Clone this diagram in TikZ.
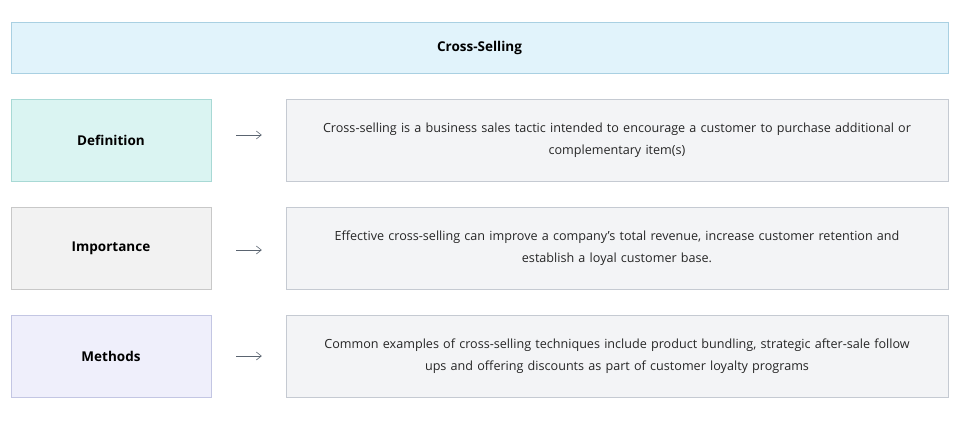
\documentclass[tikz,border=0pt]{standalone}
\usepackage{fontspec}
\setmainfont{Open Sans}
\usetikzlibrary{arrows.meta,positioning}
\definecolor{titlefill}{HTML}{E1F3FB}
\definecolor{titledraw}{HTML}{A9D0E2}
\definecolor{deffill}{HTML}{DAF4F2}
\definecolor{deffdraw}{HTML}{A8D9D5}
\definecolor{impfill}{HTML}{F2F2F2}
\definecolor{impdraw}{HTML}{C8C8C8}
\definecolor{metfill}{HTML}{EFEFFB}
\definecolor{metdraw}{HTML}{C3C6E3}
\definecolor{bodyfill}{HTML}{F3F4F6}
\definecolor{bodydraw}{HTML}{C5CAD2}
\definecolor{arrowcol}{HTML}{5A6470}
\begin{document}
\begin{tikzpicture}[x=1pt,y=-1pt,
%defines
  title/.style={rectangle,draw=titledraw,fill=titlefill,minimum width=937pt,
minimum height=51pt,font=\fontsize{13.5}{16}\selectfont\bfseries,inner sep=0pt},
label/.style={rectangle,thick,minimum width=200pt,minimum height=82pt,
font=\fontsize{13.5}{16}\selectfont\bfseries,inner sep=0pt},
body/.style={rectangle,draw=bodydraw,fill=bodyfill,minimum width=662pt,
minimum height=82pt,text width=650pt,align=center,
font=\fontsize{12.6}{22}\selectfont,inner sep=0pt,text=black!85},
link/.style={-{Straight Barb[length=5pt,width=8pt]},semithick,draw=arrowcol,
shorten <=25pt,shorten >=24pt}]
\useasboundingbox (0,0) rectangle (960,429);
\node[title] (top) at (479.5,47.5) {Cross-Selling};
\node[label,draw=deffdraw,fill=deffill] (definition) at (111,140) {Definition};
\node[label,draw=impdraw,fill=impfill] (importance) at (111,248) {Importance};
\node[label,draw=metdraw,fill=metfill] (methods) at (111,356) {Methods};
\node[body] (defbody) at (617,140) {Cross-selling is a business sales tactic intended to encourage a customer to purchase additional or\\complementary item(s)};
\node[body] (impbody) at (617,248) {Effective cross-selling can improve a company’s total revenue, increase customer retention and\\establish a loyal customer base.};
\node[body] (metbody) at (617,356) {Common examples of cross-selling techniques include product bundling, strategic after-sale follow\\ups and offering discounts as part of customer loyalty programs};
\draw[link] (definition.east) ++(0,-5) coordinate (a1) -- (a1 -| defbody.west);
\draw[link] (importance.east) ++(0,2) coordinate (a2) -- (a2 -| impbody.west);
\draw[link] (methods.east) coordinate (a3) -- (a3 -| metbody.west);
\end{tikzpicture}
\end{document}
